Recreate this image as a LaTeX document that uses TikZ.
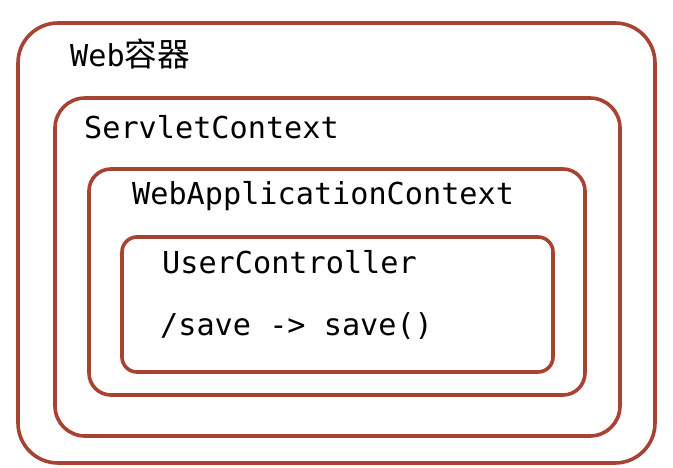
\documentclass[tikz,border=0pt]{standalone}
\usepackage{fontspec}
\setmonofont{DejaVu Sans Mono}
\newfontfamily\cjk[Scale=1.08]{Noto Sans CJK SC}
\definecolor{boxred}{RGB}{168,66,50}
\begin{document}
\begin{tikzpicture}[x=1pt,y=-1pt,
  box/.style={draw=boxred,line width=3.6pt},
  lbl/.style={anchor=base west,inner sep=0pt,font=\ttfamily\fontsize{30.2}{32}\selectfont}]
\fill[white] (0,0) rectangle (673,467);
\useasboundingbox (0,0) rectangle (673,467);
\draw[box,rounded corners=40pt] (18,23) rectangle (655,463);
\draw[box,rounded corners=30pt] (55,98) rectangle (620,436);
\draw[box,rounded corners=22pt] (89,169) rectangle (585,395);
\draw[box,rounded corners=15pt] (122,237) rectangle (553,372);
\node[lbl] (web) at (70,66) {Web{\cjk 容器}};
\node[lbl] (sc) at (84,138) {ServletContext};
\node[lbl] (wac) at (132,204) {WebApplicationContext};
\node[lbl] (uc) at (162,273) {UserController};
\node[lbl] (save) at (160,335) {/save -> save()};
\end{tikzpicture}
\end{document}
